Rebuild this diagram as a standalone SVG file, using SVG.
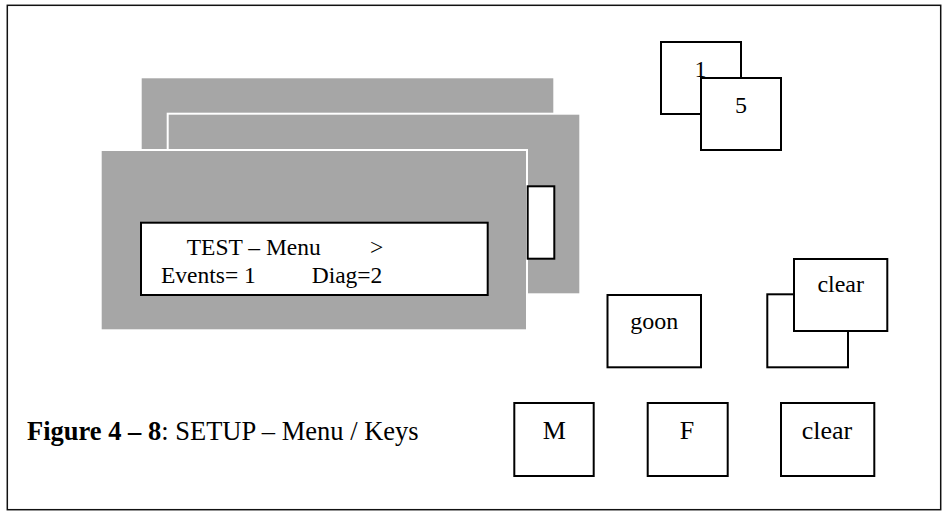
<svg xmlns="http://www.w3.org/2000/svg" width="949" height="512" viewBox="0 0 949 512">
  <style>
    text { font-family: "Liberation Serif", "Times New Roman", serif; fill: #000; }
    .panel { fill: #a6a6a6; stroke: #ffffff; stroke-width: 2; }
    .key { fill: #ffffff; stroke: #000; stroke-width: 2; }
    .kt { font-size: 24px; text-anchor: middle; }
    .kb { font-size: 26px; text-anchor: middle; }
    .lcd { font-size: 23.5px; }
  </style>
  <rect x="7.3" y="5.3" width="933.4" height="504.4" fill="#ffffff" stroke="#111" stroke-width="1.5"/>

  <g id="display">
    <rect class="panel" x="140.7" y="77.3" width="413.6" height="120"/>
    <rect class="panel" x="167.7" y="113.7" width="412.6" height="180.6"/>
    <rect class="panel" x="100.7" y="150" width="426.3" height="180.3"/>
    <rect class="key" x="527.7" y="186.3" width="26.6" height="72.4"/>
    <rect class="key" x="141" y="222.7" width="346.7" height="72.3"/>
    <text class="lcd" x="186.7" y="255">TEST – Menu</text>
    <text class="lcd" x="370" y="255">&gt;</text>
    <text class="lcd" x="161" y="283">Events= 1</text>
    <text class="lcd" x="311.7" y="283">Diag=2</text>
  </g>

  <g id="key-1">
    <rect class="key" x="661" y="42" width="80" height="72"/>
    <text class="kt" x="700.5" y="76.8">1</text>
  </g>
  <g id="key-5">
    <rect class="key" x="701" y="78" width="80" height="72"/>
    <text class="kt" x="741" y="112.7">5</text>
  </g>

  <g id="key-goon">
    <rect class="key" x="607.5" y="295" width="93.5" height="72.3"/>
    <text class="kt" x="654.3" y="329">goon</text>
  </g>

  <g id="key-clear-back">
    <rect class="key" x="767.3" y="294.3" width="80.7" height="73"/>
  </g>
  <g id="key-clear-front">
    <rect class="key" x="794" y="259" width="93.3" height="72"/>
    <text class="kt" x="840.7" y="291.7">clear</text>
  </g>

  <g id="key-M">
    <rect class="key" x="514.3" y="403" width="79.4" height="73"/>
    <text class="kb" x="554.3" y="439.3">M</text>
  </g>
  <g id="key-F">
    <rect class="key" x="647.7" y="403" width="80" height="73"/>
    <text class="kb" x="687" y="439.3">F</text>
  </g>
  <g id="key-clear">
    <rect class="key" x="781" y="403" width="93.3" height="73"/>
    <text class="kb" x="827" y="439.3">clear</text>
  </g>

  <g id="caption">
    <text x="27" y="440" font-size="26.5"><tspan font-weight="bold">Figure 4 – 8</tspan>: SETUP – Menu / Keys</text>
  </g>
  <g id="connectors"></g>
</svg>
